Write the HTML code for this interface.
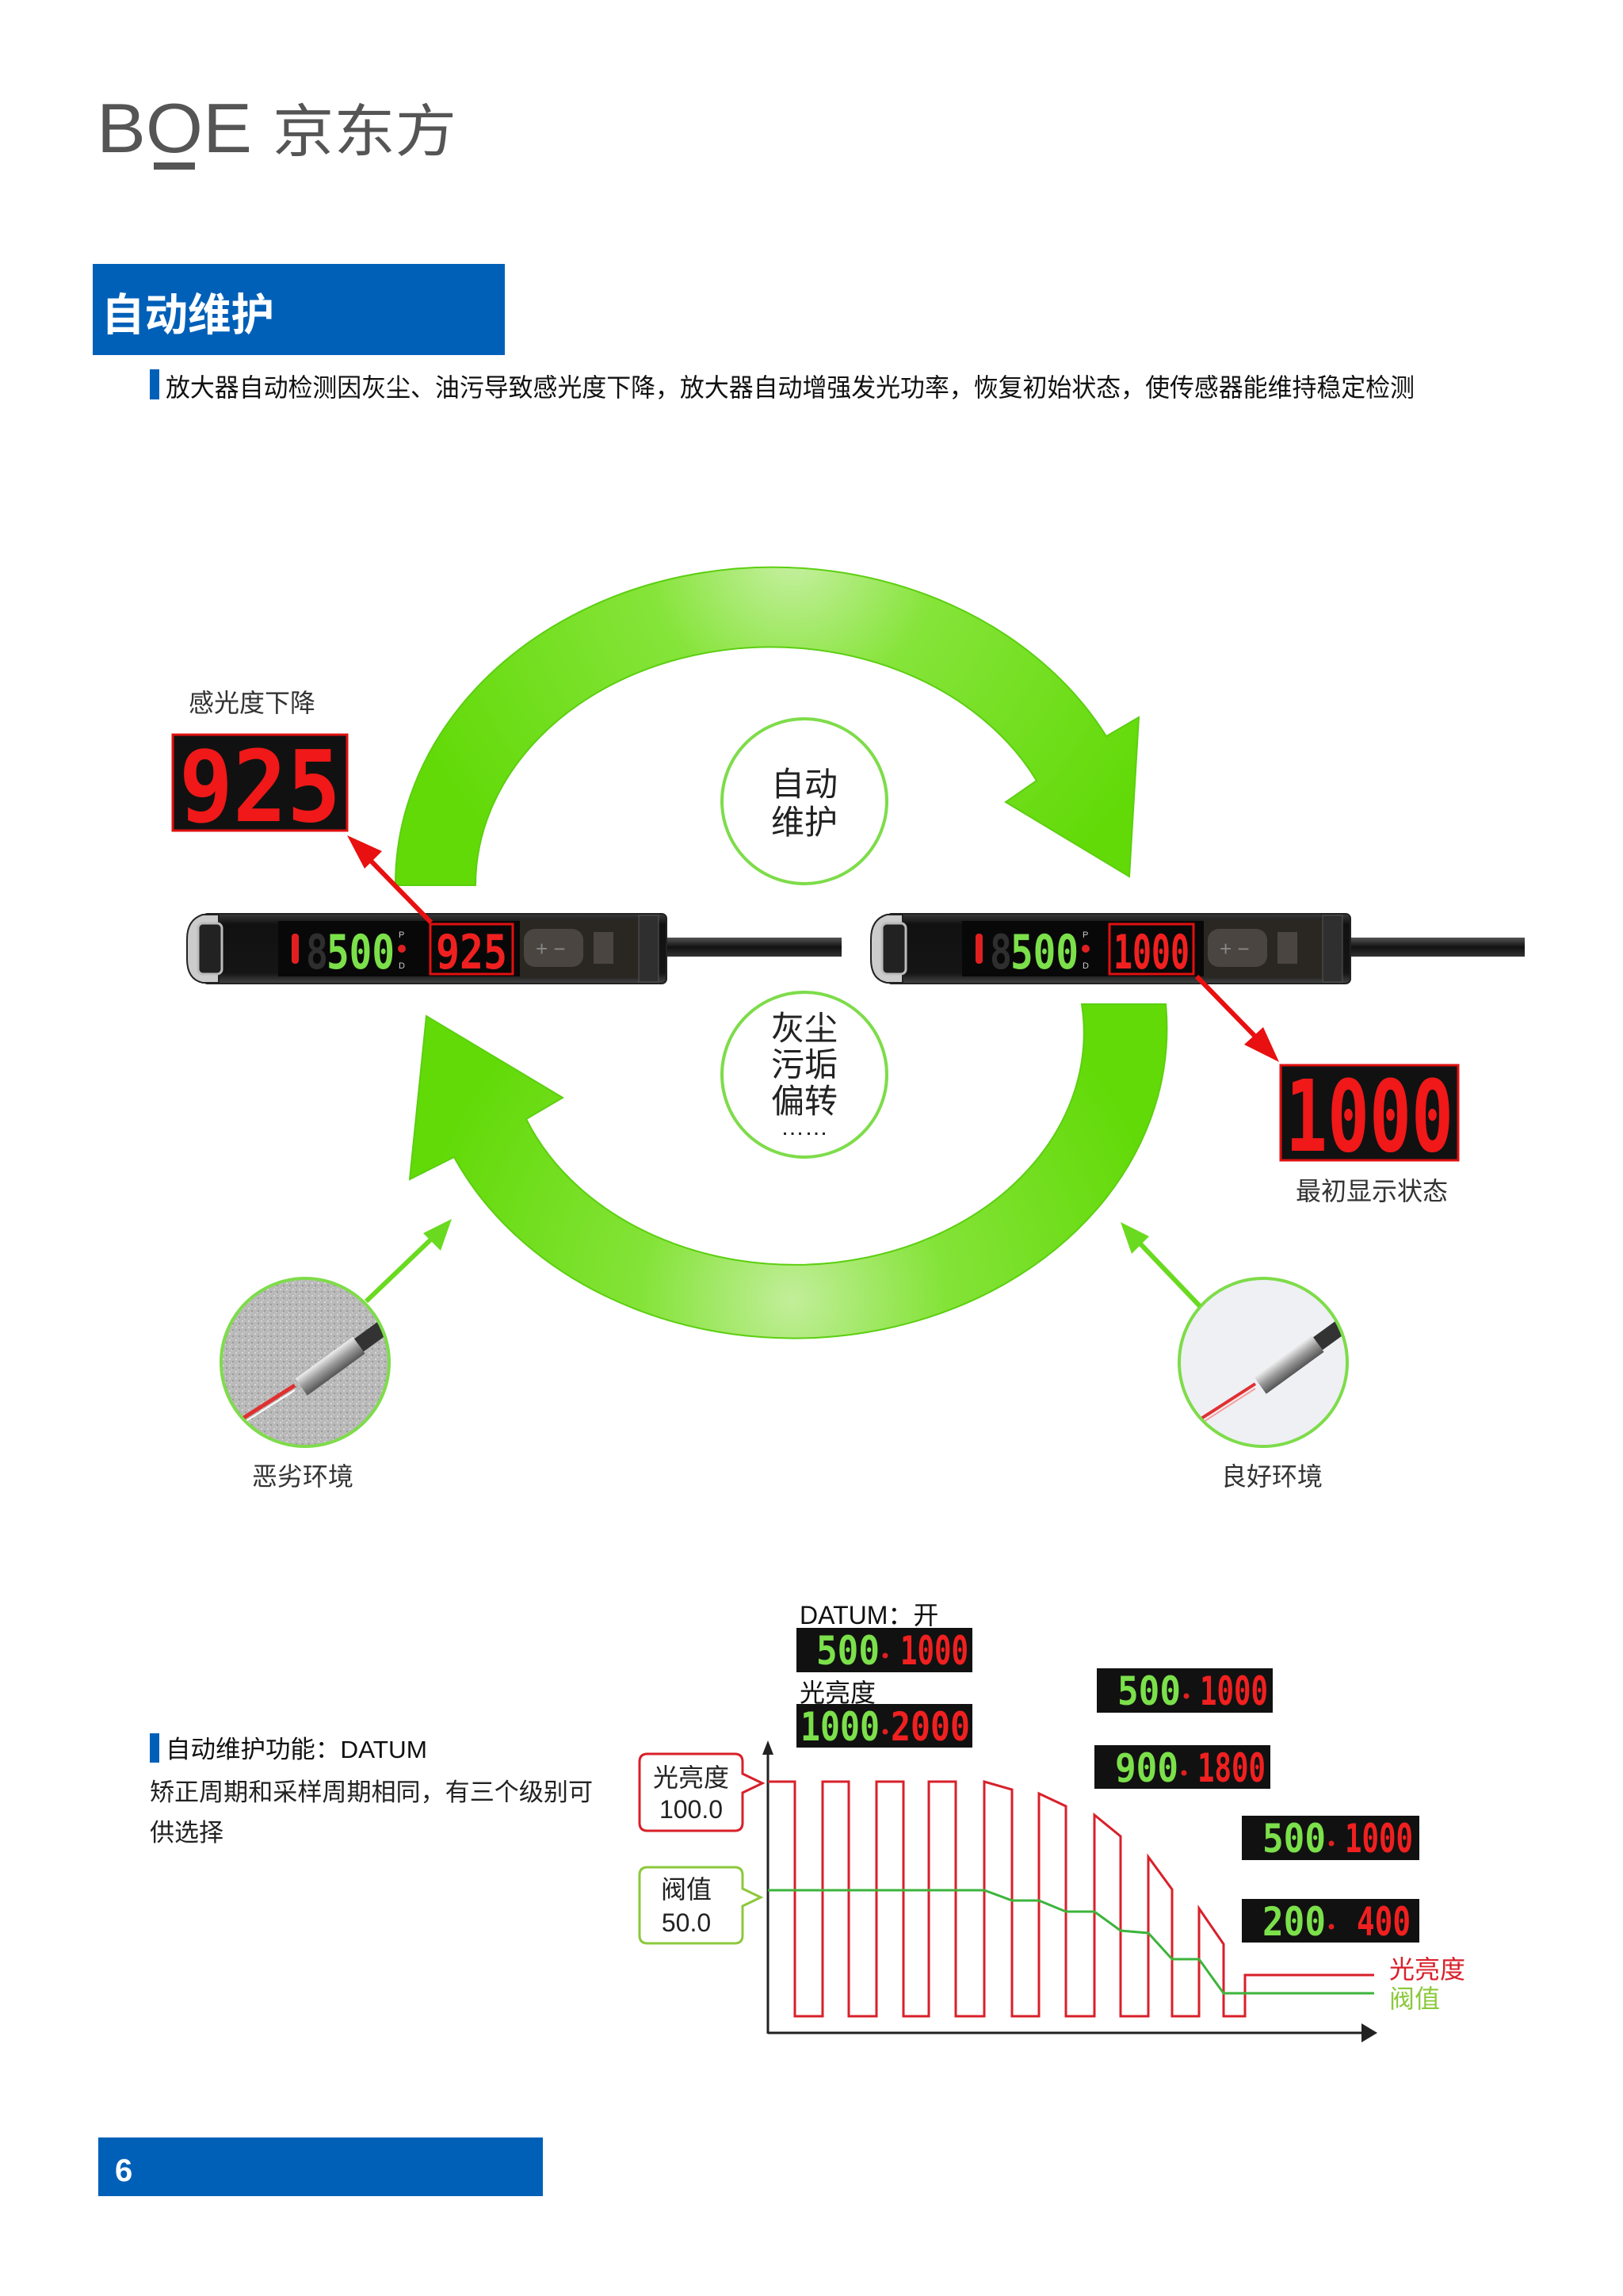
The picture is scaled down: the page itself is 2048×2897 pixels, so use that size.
<!DOCTYPE html>
<html><head><meta charset="utf-8"><style>
html,body{margin:0;padding:0;background:#fff;}
svg{display:block;}
text{font-family:"Liberation Sans","Noto Sans CJK SC",sans-serif;}
.cjk{font-family:"Liberation Sans","Noto Sans CJK SC",sans-serif;}
.seg{font-family:"DejaVu Sans Mono","Liberation Mono",monospace;font-weight:bold;}
</style></head><body>
<svg width="2048" height="2897" viewBox="0 0 2048 2897" xmlns="http://www.w3.org/2000/svg">
<defs>
<radialGradient id="gTop" cx="1000" cy="700" r="520" gradientUnits="userSpaceOnUse">
<stop offset="0" stop-color="#c8f0a4"/><stop offset="0.35" stop-color="#86e43a"/><stop offset="1" stop-color="#62da08"/></radialGradient>
<radialGradient id="gBot" cx="1000" cy="1640" r="480" gradientUnits="userSpaceOnUse">
<stop offset="0" stop-color="#c2ee9a"/><stop offset="0.4" stop-color="#84e338"/><stop offset="1" stop-color="#62da08"/></radialGradient>
<linearGradient id="body" x1="0" y1="0" x2="0" y2="1">
<stop offset="0" stop-color="#3a3a3a"/><stop offset="0.15" stop-color="#111"/><stop offset="0.85" stop-color="#151515"/><stop offset="1" stop-color="#444"/></linearGradient>
<linearGradient id="cable" x1="0" y1="0" x2="0" y2="1">
<stop offset="0" stop-color="#555"/><stop offset="0.5" stop-color="#111"/><stop offset="1" stop-color="#333"/></linearGradient>
<linearGradient id="probe" x1="0" y1="0" x2="0" y2="1">
<stop offset="0" stop-color="#eee"/><stop offset="0.5" stop-color="#999"/><stop offset="1" stop-color="#555"/></linearGradient>
<pattern id="noise" width="8" height="8" patternUnits="userSpaceOnUse">
<rect width="8" height="8" fill="#b9b9b9"/><rect x="1" y="2" width="2" height="2" fill="#d6d6d6"/><rect x="5" y="5" width="2" height="2" fill="#9a9a9a"/><rect x="4" y="0" width="1" height="1" fill="#e4e4e4"/></pattern>
<clipPath id="cl"><circle cx="385" cy="1719" r="106"/></clipPath>
<clipPath id="cr"><circle cx="1594" cy="1719" r="106"/></clipPath>
</defs>

<!-- Logo -->
<text x="122" y="192" font-size="88" fill="#555" textLength="196" lengthAdjust="spacingAndGlyphs">BOE</text>
<rect x="194" y="205" width="52" height="9" fill="#555"/>
<text x="344" y="191" class="cjk" font-size="72" fill="#555" textLength="232" lengthAdjust="spacingAndGlyphs">京东方</text>

<!-- Heading -->
<rect x="117" y="333" width="520" height="115" fill="#0060b8"/>
<text x="128" y="417" class="cjk" font-size="56" font-weight="bold" fill="#fff" textLength="218" lengthAdjust="spacingAndGlyphs">自动维护</text>
<rect x="189" y="466" width="12" height="38" fill="#0060b8"/>
<text x="209" y="500" class="cjk" font-size="32" fill="#111" textLength="1576" lengthAdjust="spacingAndGlyphs">放大器自动检测因灰尘、油污导致感光度下降，放大器自动增强发光功率，恢复初始状态，使传感器能维持稳定检测</text>

<!-- Arcs -->
<path d="M499,1117 A476,400 0 0 1 1396,929 L1437,905 L1425,1106 L1269,1012 L1308,985 A373,301 0 0 0 600,1117 Z" fill="url(#gTop)" stroke="#5ccf10" stroke-width="2"/>
<path d="M1471,1267 A471,391 0 0 1 573,1460 L517,1488 L538,1282 L710,1385 L664,1412 A365,293 0 0 0 1365,1267 Z" fill="url(#gBot)" stroke="#5ccf10" stroke-width="2"/>

<!-- Center circles -->
<circle cx="1015" cy="1011" r="104" fill="#fff" stroke="#7edc4a" stroke-width="4"/>
<text x="1015" y="1004" class="cjk" font-size="42" fill="#222" text-anchor="middle">自动</text>
<text x="1015" y="1052" class="cjk" font-size="42" fill="#222" text-anchor="middle">维护</text>
<circle cx="1015" cy="1356" r="104" fill="#fff" stroke="#7edc4a" stroke-width="4"/>
<text x="1015" y="1312" class="cjk" font-size="42" fill="#222" text-anchor="middle">灰尘</text>
<text x="1015" y="1358" class="cjk" font-size="42" fill="#222" text-anchor="middle">污垢</text>
<text x="1015" y="1404" class="cjk" font-size="42" fill="#222" text-anchor="middle">偏转</text>
<text x="1015" y="1432" class="cjk" font-size="30" fill="#222" text-anchor="middle">……</text>

<!-- Left cable (explicit) -->
<rect x="820" y="1183" width="242" height="24" fill="url(#cable)"/>

<!-- Left device -->
<g transform="translate(236,0)">
<rect x="20" y="1153" width="585" height="88" rx="6" fill="url(#body)" stroke="#222" stroke-width="2"/>
<path d="M40,1154 L20,1154 Q0,1160 0,1185 L0,1210 Q0,1236 20,1240 L40,1240 Z" fill="#ccc" stroke="#222" stroke-width="2"/>
<rect x="14" y="1165" width="30" height="64" rx="6" fill="#222" stroke="#bbb" stroke-width="3"/>
<rect x="115" y="1162" width="305" height="70" fill="#080808"/>
<rect x="132" y="1178" width="9" height="38" rx="4" fill="#e02020"/>
<text x="150" y="1222" class="seg" font-size="60" fill="#2e2e2e" textLength="28" lengthAdjust="spacingAndGlyphs">8</text>
<text x="176" y="1222" class="seg" font-size="60" fill="#7be04a" textLength="86" lengthAdjust="spacingAndGlyphs">500</text>
<text x="267" y="1183" font-size="11" fill="#ccc">P</text>
<circle cx="271" cy="1197" r="5" fill="#e02020"/>
<text x="267" y="1222" font-size="11" fill="#ccc">D</text>
<rect x="307" y="1166" width="104" height="63" fill="none" stroke="#e01010" stroke-width="3"/>
<text x="314" y="1222" class="seg" font-size="60" fill="#f02020" textLength="90" lengthAdjust="spacingAndGlyphs">925</text>
<rect x="420" y="1160" width="175" height="74" fill="#2a2622"/>
<rect x="425" y="1172" width="75" height="48" rx="14" fill="#4a4540"/>
<text x="440" y="1206" font-size="26" fill="#888">+ −</text>
<rect x="513" y="1176" width="25" height="40" fill="#4a4540"/>
<rect x="570" y="1155" width="25" height="84" fill="#2f2f2f" stroke="#555"/>
</g>

<!-- Right device -->
<rect x="1690" y="1183" width="234" height="24" fill="url(#cable)"/>
<g transform="translate(1099,0)">
<rect x="20" y="1153" width="585" height="88" rx="6" fill="url(#body)" stroke="#222" stroke-width="2"/>
<path d="M40,1154 L20,1154 Q0,1160 0,1185 L0,1210 Q0,1236 20,1240 L40,1240 Z" fill="#ccc" stroke="#222" stroke-width="2"/>
<rect x="14" y="1165" width="30" height="64" rx="6" fill="#222" stroke="#bbb" stroke-width="3"/>
<rect x="115" y="1162" width="305" height="70" fill="#080808"/>
<rect x="132" y="1178" width="9" height="38" rx="4" fill="#e02020"/>
<text x="150" y="1222" class="seg" font-size="60" fill="#2e2e2e" textLength="28" lengthAdjust="spacingAndGlyphs">8</text>
<text x="176" y="1222" class="seg" font-size="60" fill="#7be04a" textLength="86" lengthAdjust="spacingAndGlyphs">500</text>
<text x="267" y="1183" font-size="11" fill="#ccc">P</text>
<circle cx="271" cy="1197" r="5" fill="#e02020"/>
<text x="267" y="1222" font-size="11" fill="#ccc">D</text>
<rect x="301" y="1166" width="106" height="63" fill="none" stroke="#e01010" stroke-width="3"/>
<text x="306" y="1222" class="seg" font-size="60" fill="#f02020" textLength="96" lengthAdjust="spacingAndGlyphs">1000</text>
<rect x="420" y="1160" width="175" height="74" fill="#2a2622"/>
<rect x="425" y="1172" width="75" height="48" rx="14" fill="#4a4540"/>
<text x="440" y="1206" font-size="26" fill="#888">+ −</text>
<rect x="513" y="1176" width="25" height="40" fill="#4a4540"/>
<rect x="570" y="1155" width="25" height="84" fill="#2f2f2f" stroke="#555"/>
</g>

<!-- Big displays -->
<text x="238" y="898" class="cjk" font-size="32" fill="#333">感光度下降</text>
<rect x="218" y="927" width="220" height="121" fill="#111" stroke="#e01010" stroke-width="3"/>
<text x="226" y="1036" class="seg" font-size="125" fill="#f01818" textLength="204" lengthAdjust="spacingAndGlyphs">925</text>
<line x1="544" y1="1164" x2="462" y2="1080" stroke="#e81010" stroke-width="6"/>
<polygon points="438,1054 482,1074 460,1096" fill="#e81010"/>

<rect x="1616" y="1344" width="224" height="120" fill="#111" stroke="#e01010" stroke-width="3"/>
<text x="1622" y="1452" class="seg" font-size="125" fill="#f01818" textLength="212" lengthAdjust="spacingAndGlyphs">1000</text>
<text x="1635" y="1514" class="cjk" font-size="32" fill="#333">最初显示状态</text>
<line x1="1510" y1="1232" x2="1590" y2="1314" stroke="#e81010" stroke-width="6"/>
<polygon points="1614,1340 1570,1318 1594,1296" fill="#e81010"/>

<!-- Environment circles -->
<g clip-path="url(#cl)">
<rect x="270" y="1600" width="240" height="240" fill="url(#noise)"/>
<line x1="290" y1="1800" x2="372" y2="1748" stroke="#e03030" stroke-width="5"/>
<line x1="290" y1="1806" x2="372" y2="1754" stroke="#fff" stroke-width="2"/>
<g transform="rotate(-36 420 1720)"><rect x="370" y="1708" width="90" height="26" fill="url(#probe)"/><rect x="460" y="1711" width="60" height="20" fill="#333"/></g>
</g>
<circle cx="385" cy="1719" r="106" fill="none" stroke="#7edc4a" stroke-width="4"/>
<g clip-path="url(#cr)">
<rect x="1480" y="1600" width="240" height="240" fill="#eef0f4"/>
<line x1="1500" y1="1800" x2="1584" y2="1746" stroke="#e03030" stroke-width="4"/>
<line x1="1500" y1="1806" x2="1584" y2="1752" stroke="#f4a0a0" stroke-width="2"/>
<g transform="rotate(-36 1630 1718)"><rect x="1580" y="1706" width="90" height="26" fill="url(#probe)"/><rect x="1670" y="1709" width="60" height="20" fill="#333"/></g>
</g>
<circle cx="1594" cy="1719" r="106" fill="none" stroke="#7edc4a" stroke-width="4"/>
<text x="382" y="1874" class="cjk" font-size="32" fill="#333" text-anchor="middle">恶劣环境</text>
<text x="1605" y="1874" class="cjk" font-size="32" fill="#333" text-anchor="middle">良好环境</text>
<line x1="462" y1="1642" x2="552" y2="1556" stroke="#6ada20" stroke-width="6"/>
<polygon points="570,1538 534,1556 556,1578" fill="#6ada20"/>
<line x1="1514" y1="1648" x2="1430" y2="1560" stroke="#6ada20" stroke-width="6"/>
<polygon points="1414,1542 1450,1560 1428,1582" fill="#6ada20"/>

<!-- Bottom text -->
<rect x="189" y="2187" width="12" height="37" fill="#0060b8"/>
<text x="209" y="2218" class="cjk" font-size="31" fill="#111" textLength="330" lengthAdjust="spacingAndGlyphs">自动维护功能：DATUM</text>
<text x="189" y="2272" class="cjk" font-size="31" fill="#222" textLength="559" lengthAdjust="spacingAndGlyphs">矫正周期和采样周期相同，有三个级别可</text>
<text x="189" y="2323" class="cjk" font-size="31" fill="#222">供选择</text>

<!-- Chart -->
<text x="1009" y="2049" class="cjk" font-size="32" fill="#111">DATUM：开</text>
<text x="1009" y="2147" class="cjk" font-size="32" fill="#111">光亮度</text>
<g id="panels">
<rect x="1005" y="2054" width="222" height="56" fill="#111"/>
<text x="1030" y="2100" class="seg" font-size="50" fill="#7be04a" textLength="80" lengthAdjust="spacingAndGlyphs">500</text>
<circle cx="1117" cy="2089" r="3.5" fill="#e02020"/>
<text x="1136" y="2100" class="seg" font-size="50" fill="#f02020" textLength="86" lengthAdjust="spacingAndGlyphs">1000</text>
<rect x="1005" y="2150" width="222" height="55" fill="#111"/>
<text x="1010" y="2196" class="seg" font-size="50" fill="#7be04a" textLength="100" lengthAdjust="spacingAndGlyphs">1000</text>
<circle cx="1117" cy="2185" r="3.5" fill="#e02020"/>
<text x="1124" y="2196" class="seg" font-size="50" fill="#f02020" textLength="100" lengthAdjust="spacingAndGlyphs">2000</text>
<rect x="1384" y="2105" width="222" height="56" fill="#111"/>
<text x="1410" y="2151" class="seg" font-size="50" fill="#7be04a" textLength="80" lengthAdjust="spacingAndGlyphs">500</text>
<circle cx="1497" cy="2140" r="3.5" fill="#e02020"/>
<text x="1514" y="2151" class="seg" font-size="50" fill="#f02020" textLength="86" lengthAdjust="spacingAndGlyphs">1000</text>
<rect x="1381" y="2202" width="222" height="55" fill="#111"/>
<text x="1407" y="2248" class="seg" font-size="50" fill="#7be04a" textLength="80" lengthAdjust="spacingAndGlyphs">900</text>
<circle cx="1494" cy="2237" r="3.5" fill="#e02020"/>
<text x="1511" y="2248" class="seg" font-size="50" fill="#f02020" textLength="86" lengthAdjust="spacingAndGlyphs">1800</text>
<rect x="1567" y="2291" width="224" height="56" fill="#111"/>
<text x="1593" y="2337" class="seg" font-size="50" fill="#7be04a" textLength="80" lengthAdjust="spacingAndGlyphs">500</text>
<circle cx="1680" cy="2326" r="3.5" fill="#e02020"/>
<text x="1697" y="2337" class="seg" font-size="50" fill="#f02020" textLength="86" lengthAdjust="spacingAndGlyphs">1000</text>
<rect x="1567" y="2396" width="224" height="55" fill="#111"/>
<text x="1593" y="2442" class="seg" font-size="50" fill="#7be04a" textLength="80" lengthAdjust="spacingAndGlyphs">200</text>
<circle cx="1680" cy="2431" r="3.5" fill="#e02020"/>
<text x="1712" y="2442" class="seg" font-size="50" fill="#f02020" textLength="68" lengthAdjust="spacingAndGlyphs">400</text>
</g>

<!-- callouts -->
<path d="M817,2213 L927,2213 Q937,2213 937,2223 L937,2238 L962,2250 L937,2262 L937,2300 Q937,2310 927,2310 L817,2310 Q807,2310 807,2300 L807,2223 Q807,2213 817,2213 Z" fill="#fff" stroke="#d8202a" stroke-width="3"/>
<text x="872" y="2254" class="cjk" font-size="32" fill="#222" text-anchor="middle">光亮度</text>
<text x="872" y="2294" font-size="32" fill="#222" text-anchor="middle">100.0</text>
<path d="M817,2356 L927,2356 Q937,2356 937,2366 L937,2383 L960,2394 L937,2405 L937,2442 Q937,2452 927,2452 L817,2452 Q807,2452 807,2442 L807,2366 Q807,2356 817,2356 Z" fill="#fff" stroke="#8cc83c" stroke-width="3"/>
<text x="866" y="2395" class="cjk" font-size="32" fill="#222" text-anchor="middle">阀值</text>
<text x="866" y="2437" font-size="32" fill="#222" text-anchor="middle">50.0</text>

<!-- axes -->
<line x1="969" y1="2210" x2="969" y2="2566" stroke="#222" stroke-width="3"/>
<polygon points="969,2196 962,2214 976,2214" fill="#222"/>
<line x1="969" y1="2565" x2="1725" y2="2565" stroke="#222" stroke-width="3"/>
<polygon points="1738,2565 1718,2553 1718,2577" fill="#222"/>

<polyline fill="none" stroke="#d8202a" stroke-width="3" points="969,2248 1003,2248 1003,2544 1038,2544 1038,2248 1071,2248 1071,2544 1106,2544 1106,2248 1140,2248 1140,2544 1172,2544 1172,2248 1206,2248 1206,2544 1242,2544 1242,2248 1277,2258 1277,2544 1311,2544 1311,2263 1345,2279 1345,2544 1381,2544 1381,2290 1414,2317 1414,2544 1449,2544 1449,2343 1479,2384 1479,2544 1513,2544 1513,2408 1544,2453 1544,2544 1571,2544 1571,2492 1734,2492"/>
<polyline fill="none" stroke="#3cb43c" stroke-width="3" points="969,2385 1242,2385 1277,2398 1311,2398 1345,2412 1381,2412 1414,2436 1449,2439 1479,2472 1513,2472 1544,2515 1734,2515"/>
<text x="1753" y="2496" class="cjk" font-size="32" fill="#d8202a">光亮度</text>
<text x="1753" y="2533" class="cjk" font-size="32" fill="#8cc83c">阀值</text>

<!-- Footer -->
<rect x="124" y="2697" width="561" height="74" fill="#0060b8"/>
<text x="145" y="2752" font-size="40" font-weight="bold" fill="#fff">6</text>
</svg>
</body></html>
